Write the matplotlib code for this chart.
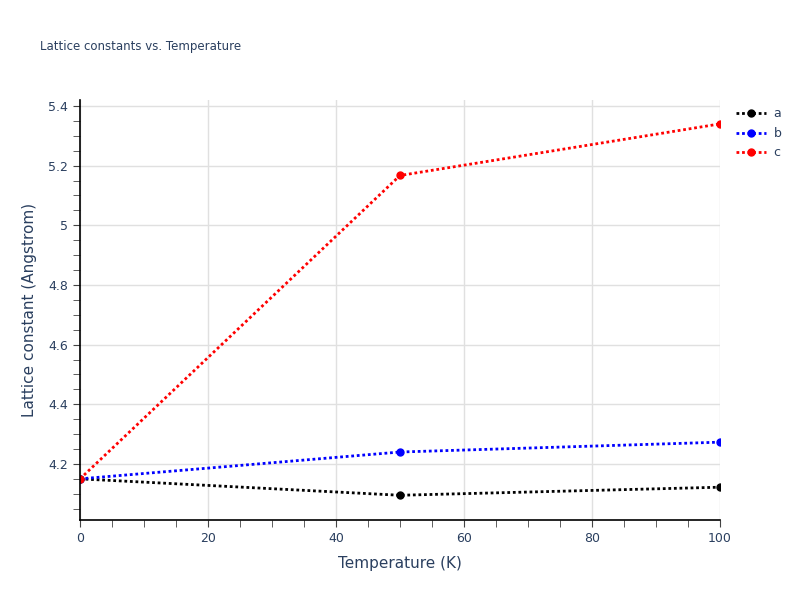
import matplotlib.pyplot as plt
from matplotlib.ticker import MultipleLocator

# Lattice constants
temperature = [0, 50, 100]
a_vals = [4.15, 4.095, 4.122]
b_vals = [4.15, 4.240, 4.273]
c_vals = [4.15, 5.167, 5.340]

txt = '#2a3f5f'
fig = plt.figure(figsize=(8, 6), dpi=100)
ax = fig.add_axes([0.1, 0.1333, 0.8, 0.7])

for vals, col, lab in [(a_vals, 'black', 'a'), (b_vals, 'blue', 'b'), (c_vals, 'red', 'c')]:
    ax.plot(temperature, vals, color=col, linestyle=(0, (1, 1)), linewidth=2,
            marker='o', markersize=5, label=lab)

ax.set_xlim(0, 100)
ax.set_ylim(4.012, 5.42)
ax.xaxis.set_major_locator(MultipleLocator(20))
ax.xaxis.set_minor_locator(MultipleLocator(5))
ax.yaxis.set_minor_locator(MultipleLocator(0.05))
ax.set_yticks([4.2, 4.4, 4.6, 4.8, 5.0, 5.2, 5.4])
ax.set_yticklabels(['4.2', '4.4', '4.6', '4.8', '5', '5.2', '5.4'])

ax.grid(True, which='major', color='#e0e0e0', linewidth=1)
ax.set_axisbelow(True)
for s in ['top', 'right']:
    ax.spines[s].set_visible(False)
for s in ['left', 'bottom']:
    ax.spines[s].set_color('black')
    ax.spines[s].set_linewidth(1.2)
ax.tick_params(which='both', direction='out', length=5, color='#444444',
               labelcolor=txt, labelsize=9)

ax.set_xlabel('Temperature (K)', color=txt, fontsize=11, labelpad=8)
ax.set_ylabel('Lattice constant (Angstrom)', color=txt, fontsize=11, labelpad=8)
fig.text(0.05, 0.923, 'Lattice constants vs. Temperature', color=txt, fontsize=8.5,
         va='center')

leg = fig.legend(loc='upper left', bbox_to_anchor=(0.92, 0.821), frameon=False,
                 fontsize=9, handlelength=2.4, labelspacing=0.52, borderaxespad=0,
                 handletextpad=0.6, borderpad=0)
for t in leg.get_texts():
    t.set_color(txt)

fig.savefig('out.png', dpi=100)
